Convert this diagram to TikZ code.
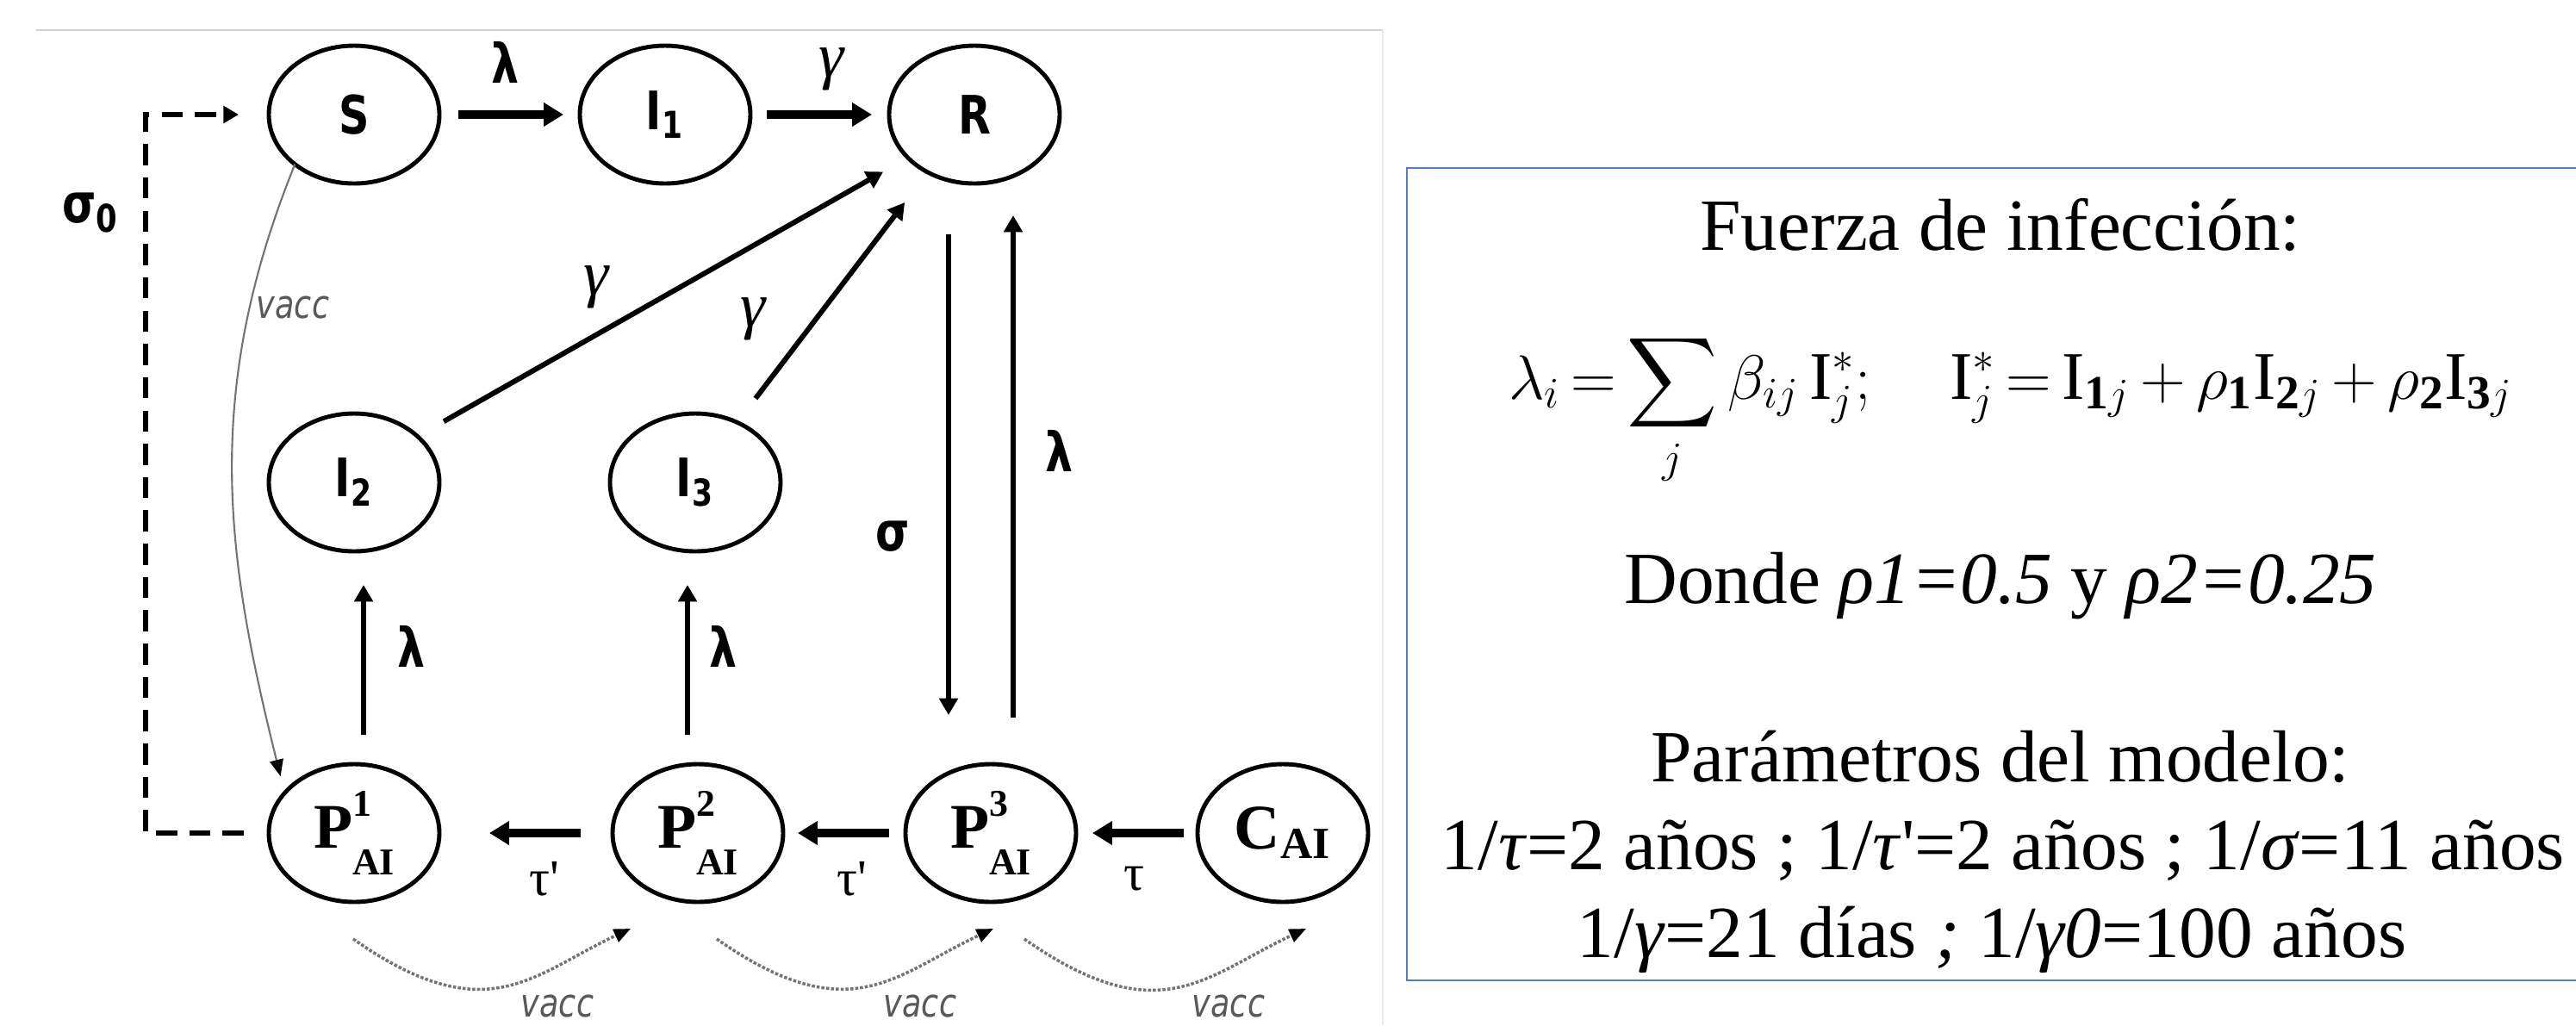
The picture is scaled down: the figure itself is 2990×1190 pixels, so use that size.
\documentclass[tikz,border=0pt]{standalone}
\usepackage{amsmath}
\usepackage{fontspec}
\setmainfont{Liberation Serif}
\newfontfamily\diagsans[FakeStretch=0.8]{DejaVu Sans}
\usepackage{xcolor}
\usepackage{tikz}
\usetikzlibrary{
    shapes.geometric,
    positioning,
    arrows.meta
}
\definecolor{boxblue}{RGB}{79,129,189}
\newcommand{\pai}[1]{P\rlap{\raisebox{0.5em}{\fontsize{12.5}{12.5}\selectfont #1}}\raisebox{-0.42em}{\fontsize{12.5}{12.5}\selectfont AI}}

\begin{document}
\begin{tikzpicture}[
      x=0.1mm, y=-0.1mm,
      comp/.style={draw, ellipse, line width=1.4pt, minimum width=19.8mm, minimum height=16mm, inner sep=0pt, outer sep=0pt, font=\diagsans\bfseries\fontsize{17.5}{17.5}\selectfont},
      serifcomp/.style={comp, font=\bfseries\fontsize{21}{21}\selectfont},
      flow/.style={-{Triangle[length=5.5pt, width=6pt]}, line width=1.6pt},
      bigflow/.style={-{Triangle[length=6.5pt, width=7.5pt]}, line width=2.6pt},
      sigzero/.style={-{Triangle[length=5pt, width=5.5pt]}, line width=1.8pt, dash pattern=on 7pt off 4pt},
      rate/.style={inner sep=0pt, font=\diagsans\bfseries\fontsize{18}{18}\selectfont},
      grate/.style={inner sep=0pt, font=\itshape\fontsize{21}{21}\selectfont},
      trate/.style={inner sep=0pt, font=\fontsize{17}{17}\selectfont},
      vacc/.style={black!55, line width=1pt, dash pattern=on 1pt off 0.6pt, -{Triangle[length=5.5pt, width=4.5pt, color=black]}},
      vlabel/.style={inner sep=0pt, text=black!65, font=\diagsans\itshape\fontsize{13}{13}\selectfont},
      boxtext/.style={inner sep=0pt, anchor=base, font=\fontsize{24.3}{28}\selectfont}
    ]
    \useasboundingbox (0,0) rectangle (2990,1190);
    \draw[black!18, line width=0.6pt] (42,35) -- (1605,35);
    \draw[black!8, line width=0.6pt] (1605,35) -- (1605,1190);

    % compartments
    \node[comp] (S) at (411,133) {S};
    \node[comp, right=16.3mm of S] (I1) {I\textsubscript{1}};
    \node[comp, right=16.1mm of I1] (R) {R};
    \node[comp, below=26.7mm of S] (I2) {I\textsubscript{2}};
    \node[comp, right=19.8mm of I2] (I3) {I\textsubscript{3}};
    \node[serifcomp, below=24.7mm of I2] (P1) {\pai{1}};
    \node[serifcomp, right=20.1mm of P1] (P2) {\pai{2}};
    \node[serifcomp, right=14.2mm of P2] (P3) {\pai{3}};
    \node[serifcomp, right=14.1mm of P3] (CAI) {C\textsubscript{AI}};

    % flows
    \draw[bigflow, shorten <=2.2mm, shorten >=1.9mm] (S) -- (I1);
    \draw[bigflow, shorten <=1.9mm, shorten >=2mm] (I1) -- (R);
    \draw[flow, line width=1.7pt, shorten <=3.5mm, shorten >=3.3mm] (I2.36) -- (R.213);
    \draw[flow, line width=1.7pt, shorten <=3.5mm, shorten >=4.4mm] (I3.55) -- (R.231);
    \draw[flow, shorten <=5.9mm, shorten >=5.7mm] ([xshift=-3mm]R.south) -- ([xshift=-4.9mm]P3.north);
    \draw[flow, shorten <=5.4mm, shorten >=3.7mm] ([xshift=2.6mm]P3.north) -- ([xshift=4.5mm]R.south);
    \draw[flow, shorten <=3.4mm, shorten >=3.9mm] ([xshift=1.1mm]P1.north) -- ([xshift=1.1mm]I2.south);
    \draw[flow, shorten <=3.4mm, shorten >=3.9mm] ([xshift=-1.2mm]P2.north) -- ([xshift=-0.9mm]I3.south);
    \draw[bigflow, shorten <=3.7mm, shorten >=5.8mm] (P2) -- (P1);
    \draw[bigflow, shorten <=1.9mm, shorten >=1.7mm] (P3) -- (P2);
    \draw[bigflow, shorten <=1.6mm, shorten >=1.9mm] (CAI) -- (P3);
    \draw[sigzero, shorten <=2.9mm, shorten >=3.5mm] (P1.west) -- ++(-143,0) |- (S.west);

    % vaccination
    \draw[vacc, line width=0.6pt, solid, shorten >=2mm] (S.220) to[out=248, in=104] (P1.150);
    \draw[vacc] ([shift={(-1,123)}]P1.center) to[out=-35, in=205, out looseness=1.5, in looseness=1] ([shift={(-78,111)}]P2.center);
    \draw[vacc] ([shift={(22,123)}]P2.center) to[out=-35, in=205, out looseness=1.5, in looseness=1] ([shift={(3,111)}]P3.center);
    \draw[vacc] ([shift={(39,123)}]P3.center) to[out=-35, in=205, out looseness=1.5, in looseness=1] ([shift={(27,111)}]CAI.center);

    % rates
    \node[rate] (lamS) at (587,72) {λ};
    \node[grate] (gamI1) at (965,80) {γ};
    \node[grate] (gamI2) at (692,333) {γ};
    \node[grate] (gamI3) at (874,370) {γ};
    \node[rate] (sigR) at (1036,623) {σ};
    \node[rate] (lamR) at (1230,523) {λ};
    \node[rate] (lamI2) at (478,750) {λ};
    \node[rate] (lamI3) at (840,750) {λ};
    \node[trate] (tauP1) at (632,1020) {τ\textquotesingle};
    \node[trate] (tauP2) at (989,1020) {τ\textquotesingle};
    \node[trate] (tauP3) at (1316,1020) {τ};
    \node[rate] (sigzero) at (105,247) {σ\textsubscript{0}};
    \node[vlabel] (vaccS) at (340,357) {vacc};
    \node[vlabel] (vacc1) at (647,1168) {vacc};
    \node[vlabel] (vacc2) at (1068,1168) {vacc};
    \node[vlabel] (vacc3) at (1426,1168) {vacc};

    % text box
    \draw[boxblue, line width=0.8pt] (2990,195) -- (1633,195) -- (1633,1138) -- (2990,1138);
    \node[boxtext] (fuerza) at (2322,290) {Fuerza de infección:};
    \node[inner sep=0pt, anchor=base, font=\fontsize{22.5}{26}\selectfont] (formula) at (2334,463)
      {$\thickmuskip=3mu \medmuskip=3mu \displaystyle \lambda_i=\sum_j \beta_{ij}\,\mathrm{I}_j^*;\quad \mathrm{I}_j^*=\mathrm{I}_{\mathbf{1}j}+\rho_{\mathbf{1}}\mathrm{I}_{\mathbf{2}j}+\rho_{\mathbf{2}}\mathrm{I}_{\mathbf{3}j}$};
    \node[boxtext] (donde) at (2322,700) {Donde \textit{ρ1=0.5} y \textit{ρ2=0.25}};
    \node[boxtext] (params) at (2322,907) {Parámetros del modelo:};
    \node[boxtext] (anos) at (2325,1009) {1/\textit{τ}=2 años ; 1/\textit{τ}\textquotesingle=2 años ; 1/\textit{σ}=11 años};
    \node[boxtext] (dias) at (2312,1111) {1/\textit{γ}=21 días \textit{;} 1/\textit{γ0}=100 años};
  \end{tikzpicture}
\end{document}
